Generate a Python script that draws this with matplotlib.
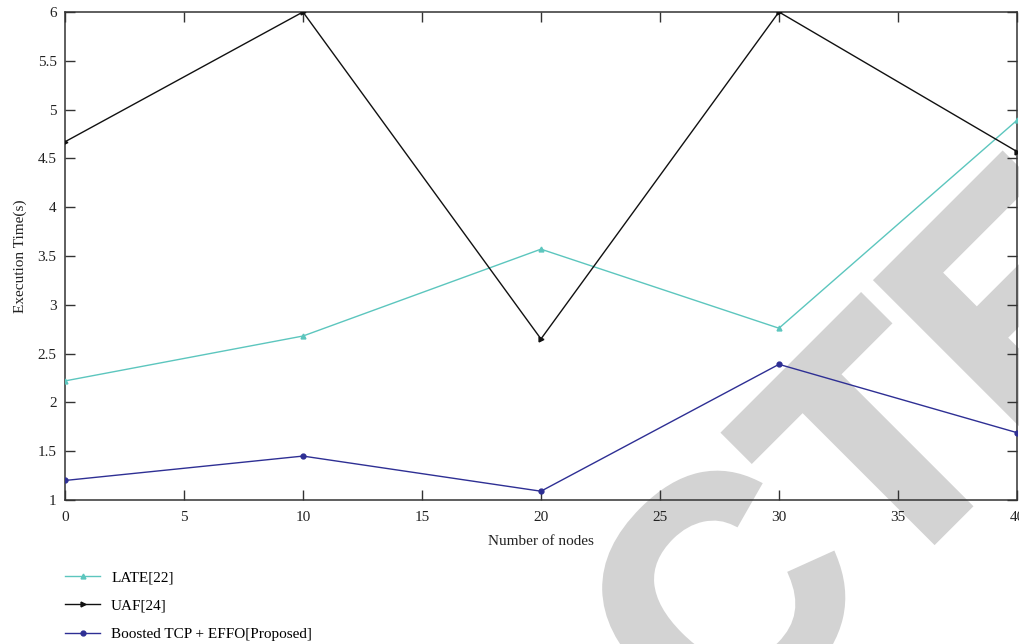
import matplotlib.pyplot as plt
import matplotlib.patheffects as pe

plt.rcParams["font.family"] = ["Liberation Serif", "DejaVu Serif"]

nodes = [0, 10, 20, 30, 40]
late = [2.22, 2.68, 3.57, 2.76, 4.89]
uaf = [4.67, 6.00, 2.65, 6.00, 4.57]
boosted = [1.20, 1.45, 1.09, 2.39, 1.69]
labels = ["LATE[22]", "UAF[24]", "Boosted TCP + EFFO[Proposed]"]

fig = plt.figure(figsize=(10.2, 6.44), dpi=100)
ax = fig.add_axes([0.0637, 0.2236, 0.9333, 0.7578])
ax.set_facecolor("none")

# watermark behind everything
fig.text(0.621, -0.305, "RETRACTED", rotation=45, rotation_mode="anchor",
         ha="center", va="baseline", fontsize=233, fontweight="bold",
         family="Liberation Sans", color="#d3d3d3", zorder=-1,
         path_effects=[pe.withStroke(linewidth=6, foreground="#d3d3d3",
                                     joinstyle="miter")])

ax.plot(nodes, late, color="#5cc6be", lw=1, marker="^", ms=3.5, label=labels[0], zorder=3)
ax.plot(nodes, uaf, color="#111111", lw=1, marker=">", ms=3.5, label=labels[1], zorder=3)
ax.plot(nodes, boosted, color="#2e2f94", lw=1, marker="o", ms=3.5, label=labels[2], zorder=3)

ax.set_xlim(0, 40)
ax.set_ylim(1, 6)
ax.set_xticks(range(0, 41, 5))
ax.set_yticks([1, 1.5, 2, 2.5, 3, 3.5, 4, 4.5, 5, 5.5, 6])
ax.set_yticklabels(["1", "1.5", "2", "2.5", "3", "3.5", "4", "4.5", "5", "5.5", "6"])
ax.tick_params(direction="in", length=7, width=1, top=True, right=True,
               labelsize=11, color="#333333", labelcolor="#222222")
ax.tick_params(axis="x", pad=8)
ax.tick_params(axis="y", pad=6)
for s in ax.spines.values():
    s.set_color("#333333")
    s.set_linewidth(1.1)
    s.set_zorder(2.5)

ax.set_xlabel("Number of nodes", fontsize=11, color="#222222", labelpad=8)
ax.set_ylabel("Execution Time(s)", fontsize=11, color="#222222", labelpad=8)

fig.legend(loc="upper left", bbox_to_anchor=(0.058, 0.123), frameon=False,
           fontsize=11, handlelength=2.3, labelspacing=0.95, handletextpad=0.7,
           borderaxespad=0)

fig.savefig("out.png", dpi=100)
